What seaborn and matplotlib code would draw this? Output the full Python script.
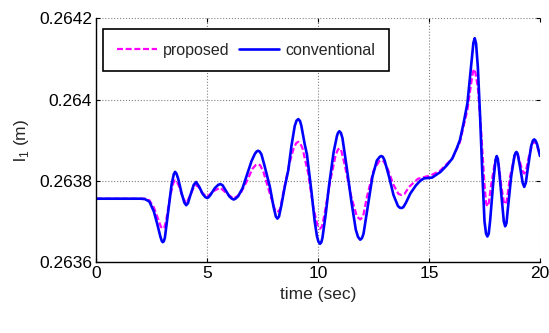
import matplotlib
matplotlib.use("Agg")
import matplotlib.pyplot as plt
import seaborn as sns

# valeurs (t en s, l1 en m)
t_conv = [0, 2.0, 2.2, 2.4, 2.6, 2.75, 2.9, 2.96, 3.0, 3.05, 3.1, 3.25, 3.4, 3.5,
          3.56, 3.62, 3.7, 3.85, 3.98, 4.06, 4.14, 4.25, 4.4, 4.51, 4.65, 4.8,
          4.92, 4.99, 5.06, 5.15, 5.35, 5.5, 5.6, 5.7, 5.8, 6.0, 6.12, 6.2, 6.28,
          6.4, 6.6, 6.8, 7.0, 7.15, 7.23, 7.3, 7.37, 7.45, 7.6, 7.83, 8.0, 8.1,
          8.17, 8.24, 8.35, 8.5, 8.66, 8.8, 8.95, 9.03, 9.11, 9.19, 9.25, 9.4,
          9.5, 9.7, 9.85, 9.95, 10.02, 10.09, 10.15, 10.2, 10.35, 10.5, 10.7,
          10.85, 10.9, 10.96, 11.03, 11.1, 11.3, 11.5, 11.7, 11.8, 11.9, 11.98,
          12.05, 12.25, 12.45, 12.65, 12.78, 12.85, 12.92, 13.0, 13.2, 13.4,
          13.6, 13.68, 13.76, 13.84, 13.95, 14.16, 14.4, 14.6, 14.77, 15.14,
          15.52, 15.8, 16.05, 16.25, 16.39, 16.55, 16.73, 16.9, 17.0, 17.06,
          17.12, 17.2, 17.3, 17.4, 17.5, 17.57, 17.63, 17.69, 17.75, 17.9, 18.0,
          18.05, 18.1, 18.15, 18.3, 18.37, 18.43, 18.49, 18.55, 18.7, 18.85,
          18.9, 18.94, 18.99, 19.1, 19.22, 19.29, 19.36, 19.45, 19.6, 19.68,
          19.74, 19.8, 19.87, 20.0]
l_conv = [0.263756, 0.263756, 0.263755, 0.263749, 0.263725, 0.263695, 0.263662,
          0.263652, 0.263649, 0.263651, 0.263660, 0.263725, 0.263790, 0.263816,
          0.263822, 0.263818, 0.263805, 0.263770, 0.263746, 0.263740, 0.263745,
          0.263765, 0.263790, 0.263797, 0.263785, 0.263768, 0.263760, 0.263758,
          0.263759, 0.263765, 0.263782, 0.263790, 0.263792, 0.263789, 0.263780,
          0.263762, 0.263756, 0.263754, 0.263756, 0.263762, 0.263782, 0.263815,
          0.263848, 0.263866, 0.263872, 0.263874, 0.263872, 0.263865, 0.263835,
          0.263785, 0.263735, 0.263712, 0.263707, 0.263712, 0.263740, 0.263785,
          0.263826, 0.263885, 0.263935, 0.263948, 0.263952, 0.263947, 0.263935,
          0.263890, 0.263865, 0.263775, 0.263700, 0.263664, 0.263650, 0.263645,
          0.263649, 0.263660, 0.263720, 0.263790, 0.263870, 0.263910, 0.263918,
          0.263922, 0.263918, 0.263905, 0.263830, 0.263750, 0.263680, 0.263662,
          0.263655, 0.263659, 0.263670, 0.263740, 0.263810, 0.263850, 0.263859,
          0.263861, 0.263859, 0.263850, 0.263810, 0.263765, 0.263738, 0.263734,
          0.263733, 0.263735, 0.263745, 0.263769, 0.263788, 0.263800, 0.263806,
          0.263808, 0.263822, 0.263838, 0.263855, 0.263880, 0.263900, 0.263940,
          0.263991, 0.264085, 0.264140, 0.264151, 0.264138, 0.264080, 0.263960,
          0.263820, 0.263700, 0.263670, 0.263663, 0.263670, 0.263700, 0.263800,
          0.263852, 0.263861, 0.263854, 0.263830, 0.263740, 0.263700, 0.263688,
          0.263696, 0.263730, 0.263810, 0.263862, 0.263869, 0.263871, 0.263867,
          0.263835, 0.263795, 0.263785, 0.263795, 0.263830, 0.263885, 0.263899,
          0.263902, 0.263899, 0.263890, 0.263861]

t_prop = [0, 2.2, 2.4, 2.6, 2.8, 2.92, 3.0, 3.08, 3.15, 3.35, 3.48, 3.56, 3.64,
          3.75, 3.9, 4.06, 4.25, 4.4, 4.51, 4.62, 4.75, 4.99, 5.3, 5.6, 5.9, 6.2,
          6.5, 6.8, 7.05, 7.2, 7.3, 7.4, 7.55, 7.85, 8.05, 8.17, 8.29, 8.45, 8.7,
          8.9, 9.02, 9.11, 9.2, 9.3, 9.55, 9.8, 9.98, 10.09, 10.18, 10.3, 10.55,
          10.8, 10.9, 10.96, 11.04, 11.2, 11.5, 11.75, 11.9, 12.03, 12.2, 12.5,
          12.75, 12.85, 12.95, 13.1, 13.4, 13.62, 13.76, 13.9, 14.1, 14.5, 15.1,
          15.5, 16.05, 16.39, 16.73, 16.9, 16.98, 17.03, 17.09, 17.2, 17.35, 17.5,
          17.57, 17.63, 17.69, 17.8, 17.98, 18.05, 18.12, 18.25, 18.37, 18.43,
          18.5, 18.65, 18.87, 18.94, 19.01, 19.1, 19.22, 19.29, 19.36, 19.5,
          19.66, 19.74, 19.82, 20.0]
l_prop = [0.263756, 0.263756, 0.263752, 0.263735, 0.263705, 0.263687, 0.263682,
          0.263686, 0.263700, 0.263765, 0.263795, 0.263801, 0.263798, 0.263785,
          0.263760, 0.263744, 0.263765, 0.263784, 0.263789, 0.263785, 0.263772,
          0.263760, 0.263775, 0.263783, 0.263768, 0.263756, 0.263768, 0.263800,
          0.263830, 0.263839, 0.263841, 0.263838, 0.263820, 0.263765, 0.263730,
          0.263723, 0.263730, 0.263775, 0.263840, 0.263880, 0.263893, 0.263896,
          0.263892, 0.263880, 0.263820, 0.263730, 0.263690, 0.263682, 0.263688,
          0.263720, 0.263800, 0.263865, 0.263877, 0.263880, 0.263876, 0.263840,
          0.263760, 0.263712, 0.263705, 0.263712, 0.263760, 0.263825, 0.263848,
          0.263851, 0.263848, 0.263835, 0.263790, 0.263768, 0.263765, 0.263768,
          0.263785, 0.263805, 0.263814, 0.263825, 0.263855, 0.263895, 0.263975,
          0.264040, 0.264068, 0.264075, 0.264066, 0.264030, 0.263920, 0.263790,
          0.263745, 0.263737, 0.263745, 0.263790, 0.263850, 0.263855, 0.263850,
          0.263790, 0.263748, 0.263742, 0.263750, 0.263810, 0.263864, 0.263867,
          0.263863, 0.263845, 0.263823, 0.263818, 0.263823, 0.263860, 0.263892,
          0.263896, 0.263892, 0.263865]

xticks = [0, 5, 10, 15, 20]
yticks = [0.2636, 0.2638, 0.264, 0.2642]
ytick_labels = ["0.2636", "0.2638", "0.264", "0.2642"]

sns.set_style("ticks")
plt.rcParams['font.family'] = ['Liberation Sans', 'DejaVu Sans']
plt.rcParams['mathtext.fontset'] = 'custom'
plt.rcParams['mathtext.rm'] = 'Liberation Sans'

fig = plt.figure(figsize=(5.49, 3.33), dpi=100)
ax = fig.add_axes([0.175, 0.213, 0.8086, 0.732])

sns.lineplot(x=t_prop, y=l_prop, ax=ax, color='#ff00ff', linewidth=1.6,
             linestyle=(0, (2.7, 1.2)), sort=False, estimator=None, label='proposed')
sns.lineplot(x=t_conv, y=l_conv, ax=ax, color='#0000ff', linewidth=1.9,
             sort=False, estimator=None, label='conventional')

ax.set_xlim(0, 20)
ax.set_ylim(0.2636, 0.2642)
ax.set_xticks(xticks)
ax.set_xticklabels([str(v) for v in xticks])
ax.set_yticks(yticks)
ax.set_yticklabels(ytick_labels)
ax.tick_params(direction='in', length=3, width=0.8, labelsize=12.5, colors='black',
               top=True, right=True, pad=3)
ax.grid(True, linestyle=':', color='#808080', linewidth=0.8)
for s in ['top', 'right']:
    ax.spines[s].set_visible(False)
for s in ['left', 'bottom']:
    ax.spines[s].set_color('black')
    ax.spines[s].set_linewidth(1.0)

ax.set_xlabel('time (sec)', fontsize=12.5, labelpad=4)
ax.set_ylabel(r'l$_1$ (m)', fontsize=12.5, labelpad=6)

leg = ax.legend(ncol=2, loc='upper left', bbox_to_anchor=(0.016, 0.955),
                borderaxespad=0, fontsize=11.5, frameon=True, fancybox=False,
                handlelength=2.5, columnspacing=0.6, handletextpad=0.4,
                borderpad=0.85)
leg.get_frame().set_edgecolor('black')
leg.get_frame().set_linewidth(1.2)
leg.get_frame().set_alpha(1)

fig.savefig('out.png', dpi=100)
